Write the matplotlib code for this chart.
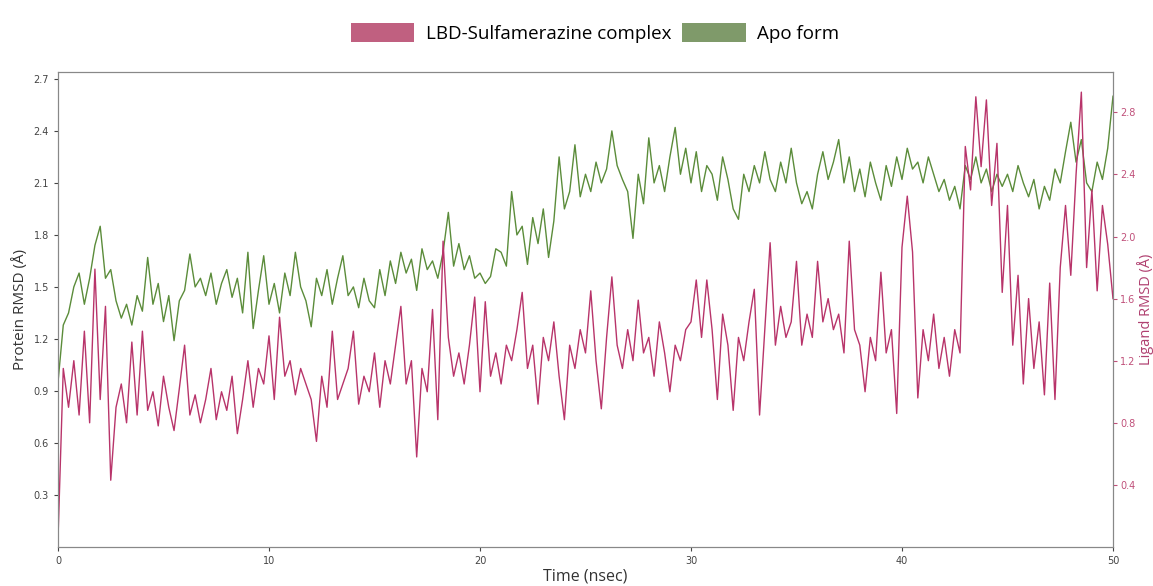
import numpy as np
import matplotlib.pyplot as plt
from matplotlib.patches import Patch

# Protein RMSD of the apo form (left axis), 4 samples per ns
apo_rmsd = [
    0.95, 1.28, 1.35, 1.50,  1.58, 1.40, 1.55, 1.74,  1.85, 1.55, 1.60, 1.42,
    1.32, 1.40, 1.28, 1.45,  1.36, 1.67, 1.40, 1.52,  1.30, 1.45, 1.19, 1.42,
    1.48, 1.69, 1.50, 1.55,  1.45, 1.58, 1.40, 1.52,  1.60, 1.44, 1.55, 1.35,
    1.70, 1.26, 1.48, 1.68,  1.40, 1.52, 1.35, 1.58,  1.45, 1.70, 1.50, 1.42,
    1.27, 1.55, 1.45, 1.60,  1.40, 1.55, 1.68, 1.45,  1.50, 1.38, 1.55, 1.42,
    1.38, 1.60, 1.45, 1.65,  1.52, 1.70, 1.58, 1.66,  1.48, 1.72, 1.60, 1.65,
    1.55, 1.70, 1.93, 1.62,  1.75, 1.60, 1.68, 1.55,  1.58, 1.52, 1.56, 1.72,
    1.70, 1.62, 2.05, 1.80,  1.85, 1.63, 1.90, 1.75,  1.95, 1.67, 1.88, 2.25,
    1.95, 2.05, 2.32, 2.02,  2.15, 2.05, 2.22, 2.10,  2.18, 2.40, 2.20, 2.12,
    2.05, 1.78, 2.15, 1.98,  2.36, 2.10, 2.20, 2.05,  2.25, 2.42, 2.15, 2.30,
    2.10, 2.28, 2.05, 2.20,  2.15, 2.00, 2.25, 2.12,  1.95, 1.89, 2.15, 2.05,
    2.20, 2.10, 2.28, 2.12,  2.05, 2.22, 2.10, 2.30,  2.10, 1.98, 2.05, 1.95,
    2.15, 2.28, 2.12, 2.22,  2.35, 2.10, 2.25, 2.05,  2.18, 2.02, 2.22, 2.10,
    2.00, 2.20, 2.08, 2.25,  2.12, 2.30, 2.18, 2.22,  2.10, 2.25, 2.15, 2.05,
    2.12, 2.00, 2.08, 1.95,  2.20, 2.12, 2.25, 2.10,  2.18, 2.05, 2.15, 2.08,
    2.15, 2.05, 2.20, 2.10,  2.02, 2.12, 1.95, 2.08,  2.00, 2.18, 2.10, 2.28,
    2.45, 2.22, 2.35, 2.10,  2.05, 2.22, 2.12, 2.30,  2.60,
]

# Ligand RMSD of the LBD-Sulfamerazine complex (right axis)
lig_rmsd = [
    0.05, 1.15, 0.90, 1.20,  0.85, 1.39, 0.80, 1.79,  0.95, 1.55, 0.43, 0.90,
    1.05, 0.80, 1.32, 0.85,  1.39, 0.88, 1.00, 0.78,  1.10, 0.90, 0.75, 1.02,
    1.30, 0.85, 0.98, 0.80,  0.95, 1.15, 0.82, 1.00,  0.88, 1.10, 0.73, 0.95,
    1.20, 0.90, 1.15, 1.05,  1.36, 0.95, 1.48, 1.10,  1.20, 0.98, 1.15, 1.05,
    0.95, 0.68, 1.10, 0.90,  1.39, 0.95, 1.05, 1.15,  1.39, 0.92, 1.10, 1.00,
    1.25, 0.90, 1.20, 1.05,  1.30, 1.55, 1.05, 1.20,  0.58, 1.15, 1.00, 1.53,
    0.82, 1.97, 1.35, 1.10,  1.25, 1.05, 1.30, 1.61,  1.00, 1.58, 1.10, 1.25,
    1.05, 1.30, 1.20, 1.40,  1.64, 1.15, 1.30, 0.92,  1.35, 1.20, 1.45, 1.10,
    0.82, 1.30, 1.15, 1.40,  1.25, 1.65, 1.20, 0.89,  1.35, 1.74, 1.30, 1.15,
    1.40, 1.20, 1.59, 1.25,  1.35, 1.10, 1.45, 1.25,  1.00, 1.30, 1.20, 1.40,
    1.45, 1.72, 1.35, 1.72,  1.40, 0.95, 1.50, 1.30,  0.88, 1.35, 1.20, 1.45,
    1.66, 0.85, 1.40, 1.96,  1.30, 1.55, 1.35, 1.45,  1.84, 1.30, 1.50, 1.35,
    1.84, 1.45, 1.60, 1.40,  1.50, 1.25, 1.97, 1.40,  1.30, 1.00, 1.35, 1.20,
    1.77, 1.25, 1.40, 0.86,  1.93, 2.26, 1.90, 0.96,  1.40, 1.20, 1.50, 1.15,
    1.35, 1.10, 1.40, 1.25,  2.58, 2.30, 2.90, 2.45,  2.88, 2.20, 2.60, 1.64,
    2.20, 1.30, 1.75, 1.05,  1.60, 1.15, 1.45, 0.98,  1.70, 0.95, 1.80, 2.20,
    1.75, 2.40, 2.93, 1.80,  2.30, 1.65, 2.20, 1.95,  1.60,
]

time_apo = np.linspace(0, 50, len(apo_rmsd))
time_lig = np.linspace(0, 50, len(lig_rmsd))

green = '#5b8c3a'
pink = '#b8346a'

fig = plt.figure(figsize=(11.53, 5.86), dpi=100)
ax = fig.add_axes([0.0503, 0.0666, 0.915, 0.8106])
ax2 = ax.twinx()

ax.plot(time_apo, apo_rmsd, color=green, lw=1.0)
ax2.plot(time_lig, lig_rmsd, color=pink, lw=1.0)

ax.set_xlim(0, 50)
ax.set_ylim(0, 2.74)
ax2.set_ylim(0, 3.06)
ax.set_xticks([0, 10, 20, 30, 40, 50])
ax.set_yticks([0.3, 0.6, 0.9, 1.2, 1.5, 1.8, 2.1, 2.4, 2.7])
ax2.set_yticks([0.4, 0.8, 1.2, 1.6, 2.0, 2.4, 2.8])

ax.tick_params(labelsize=7, colors='#444444', length=3)
ax2.tick_params(labelsize=7, colors='#c0507a', length=3, pad=2)
for a in (ax, ax2):
    for s in a.spines.values():
        s.set_color('#888888')

ax.set_xlabel('Time (nsec)', fontsize=11.5, color='#333333', labelpad=2,
              family=['Open Sans', 'DejaVu Sans'])
ax.set_ylabel('Protein RMSD (Å)', fontsize=11, color='#333333', labelpad=4,
              family=['Open Sans', 'DejaVu Sans'])
ax2.set_ylabel('Ligand RMSD (Å)', fontsize=10.5, color='#b04070', labelpad=1,
               family=['Open Sans', 'DejaVu Sans'])

handles = [Patch(facecolor='#c06080', label='LBD-Sulfamerazine complex'),
           Patch(facecolor='#7f9a6a', label='Apo form')]
fig.legend(handles=handles, loc='upper center', bbox_to_anchor=(0.516, 0.99),
           ncol=2, frameon=False, handlelength=3.4, handleheight=1.2,
           columnspacing=0.6, handletextpad=0.6,
           prop={'family': 'Open Sans', 'size': 13.5})

fig.savefig('out.png', dpi=100)
